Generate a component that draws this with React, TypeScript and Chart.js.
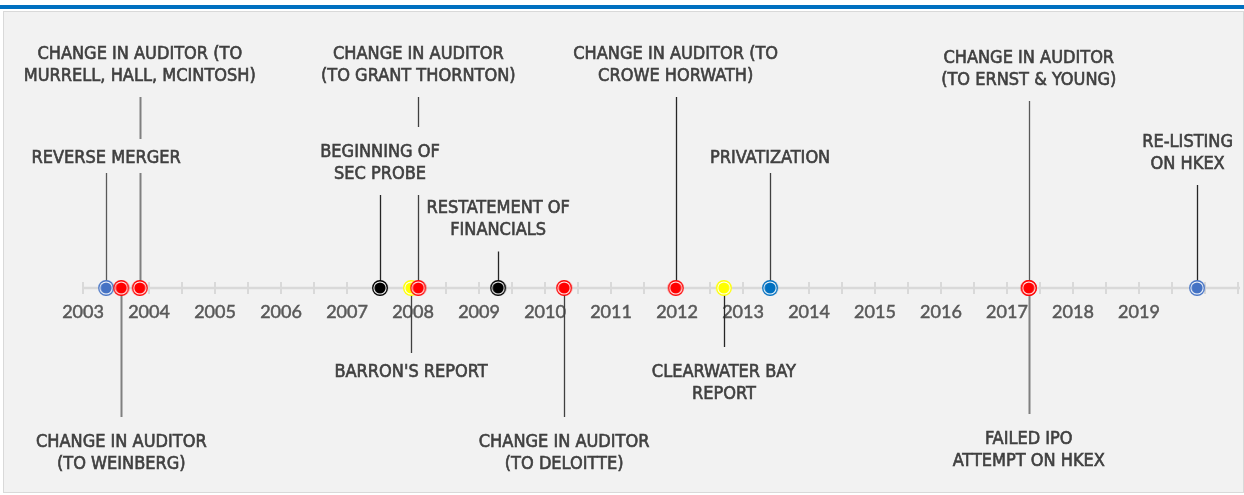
import React, { useEffect, useRef } from "react";
import { Chart, registerables } from "chart.js";

Chart.register(...registerables);

const eventLabels: string[][] = [
  ["REVERSE MERGER"],
  ["CHANGE IN AUDITOR", "(TO WEINBERG)"],
  ["CHANGE IN AUDITOR (TO", "MURRELL, HALL, MCINTOSH)"],
  ["BEGINNING OF", "SEC PROBE"],
  ["BARRON'S REPORT"],
  ["CHANGE IN AUDITOR", "(TO GRANT THORNTON)"],
  ["RESTATEMENT OF", "FINANCIALS"],
  ["CHANGE IN AUDITOR", "(TO DELOITTE)"],
  ["CHANGE IN AUDITOR (TO", "CROWE HORWATH)"],
  ["CLEARWATER BAY", "REPORT"],
  ["PRIVATIZATION"],
  ["CHANGE IN AUDITOR", "(TO ERNST & YOUNG)"],
  ["FAILED IPO", "ATTEMPT ON HKEX"],
  ["RE-LISTING", "ON HKEX"],
];
const eventDates = [
  2003.35, 2003.58, 2003.86, 2007.5, 2007.97, 2008.08, 2009.29, 2010.29,
  2011.98, 2012.71, 2013.41, 2017.33, 2017.33, 2019.88,
];
const eventHeights = [
  1.32, -1.63, 2.25, 1.27, -0.82, 2.25, 0.705, -1.63, 2.25, -0.93, 1.32, 2.21,
  -1.6, 1.37,
];
const eventColors = [
  "#4472c4", "#ff0000", "#ff0000", "#000000", "#ffff00", "#ff0000", "#000000",
  "#ff0000", "#ff0000", "#ffff00", "#0070c0", "#ff0000", "#ff0000", "#4472c4",
];
const stemColors = [
  "#595959", "#808080", "#808080", "#262626", "#404040", "#404040", "#262626",
  "#404040", "#262626", "#262626", "#404040", "#595959", "#808080", "#262626",
];
const yearTicks = [
  2003, 2004, 2005, 2006, 2007, 2008, 2009, 2010, 2011, 2012, 2013, 2014, 2015,
  2016, 2017, 2018, 2019,
];

const W = 1244;
const H = 495;

function makeMarker(color: string): HTMLCanvasElement {
  const c = document.createElement("canvas");
  c.width = 18;
  c.height = 18;
  const g = c.getContext("2d")!;
  g.beginPath();
  g.arc(9, 9, 7.3, 0, Math.PI * 2);
  g.fillStyle = "#ffffff";
  g.fill();
  g.lineWidth = 1.4;
  g.strokeStyle = color;
  g.stroke();
  g.beginPath();
  g.arc(9, 9, 5.6, 0, Math.PI * 2);
  g.fillStyle = color;
  g.fill();
  return c;
}

const timelinePlugin = {
  id: "timeline",
  beforeDatasetsDraw(chart: any) {
    const ctx = chart.ctx as CanvasRenderingContext2D;
    const xs = chart.scales.x;
    const ys = chart.scales.y;
    const y0 = ys.getPixelForValue(0);
    ctx.save();
    // axis line
    ctx.strokeStyle = "#d9d9d9";
    ctx.lineWidth = 2.5;
    ctx.beginPath();
    ctx.moveTo(xs.getPixelForValue(2003), y0);
    ctx.lineTo(chart.chartArea.right - 4, y0);
    ctx.stroke();
    // ticks every half year
    ctx.lineWidth = 2;
    for (let t = 2003; t <= 2020.5; t += 0.5) {
      const px = Math.round(xs.getPixelForValue(t));
      ctx.beginPath();
      ctx.moveTo(px, y0 - 6);
      ctx.lineTo(px, y0 + 6);
      ctx.stroke();
    }
    // year labels
    ctx.fillStyle = "#595959";
    ctx.strokeStyle = "#595959";
    ctx.lineWidth = 0.5;
    ctx.font = "18px Lato";
    ctx.textAlign = "center";
    ctx.textBaseline = "middle";
    yearTicks.forEach((yr) => {
      const px = xs.getPixelForValue(yr);
      ctx.fillText(String(yr), px, y0 + 24);
      ctx.strokeText(String(yr), px, y0 + 24);
    });
    // stems
    eventDates.forEach((d, i) => {
      const px = Math.round(xs.getPixelForValue(d)) + 0.5;
      const py = ys.getPixelForValue(eventHeights[i]);
      ctx.strokeStyle = stemColors[i];
      ctx.lineWidth = stemColors[i] === "#808080" ? 2 : 1.3;
      ctx.beginPath();
      ctx.moveTo(px, y0);
      ctx.lineTo(px, py);
      ctx.stroke();
    });
    // labels with background boxes
    ctx.font = "condensed 18px 'DejaVu Sans Condensed', 'DejaVu Sans', sans-serif";
    const rightLimit = chart.chartArea.right - 11;
    eventLabels.forEach((lines, i) => {
      const cy = ys.getPixelForValue(eventHeights[i]);
      const lh = 22;
      const wMax = Math.max(...lines.map((l) => ctx.measureText(l).width));
      const cx = Math.min(xs.getPixelForValue(eventDates[i]), rightLimit - wMax / 2);
      const bh = lines.length * lh + (lines.length === 1 ? 12 : 24);
      ctx.fillStyle = "#f2f2f2";
      ctx.fillRect(cx - wMax / 2 - 4, cy - bh / 2, wMax + 8, bh);
      ctx.fillStyle = "#404040";
      ctx.strokeStyle = "#404040";
      ctx.lineWidth = 0.6;
      lines.forEach((l, k) => {
        const ly = cy + 2 + (k - (lines.length - 1) / 2) * lh;
        ctx.fillText(l, cx, ly);
        ctx.strokeText(l, cx, ly);
      });
    });
    ctx.restore();
  },
};

export default function App() {
  const ref = useRef<HTMLCanvasElement>(null);
  useEffect(() => {
    if (!ref.current) return;
    const markers: Record<string, HTMLCanvasElement> = {};
    eventColors.forEach((c) => {
      if (!markers[c]) markers[c] = makeMarker(c);
    });
    const chart = new Chart(ref.current, {
      type: "scatter",
      data: {
        datasets: [
          {
            data: eventDates.map((d) => ({ x: d, y: 0 })),
            pointStyle: eventColors.map((c) => markers[c]) as any,
            pointRadius: 8,
            pointHoverRadius: 8,
          },
        ],
      },
      options: {
        animation: false,
        responsive: false,
        devicePixelRatio: 1,
        layout: { padding: 0, autoPadding: false },
        events: [],
        plugins: {
          legend: { display: false },
          tooltip: { enabled: false },
        },
        scales: {
          x: { type: "linear", display: false, min: 2001.742, max: 2020.591 },
          y: { type: "linear", display: false, min: -2.07, max: 2.88 },
        },
      },
      plugins: [timelinePlugin],
    });
    return () => chart.destroy();
  }, []);
  return (
    <div
      style={{
        position: "fixed",
        left: 0,
        top: 0,
        width: W,
        height: H,
        background: "#ffffff",
        overflow: "hidden",
      }}
    >
      <div
        style={{
          position: "absolute",
          left: 0,
          top: 5,
          width: W,
          height: 4,
          background: "#0070c0",
        }}
      />
      <div
        style={{
          position: "absolute",
          left: 3,
          top: 11,
          width: W - 3,
          height: 482,
          background: "#f2f2f2",
          border: "1px solid #d9d9d9",
          boxSizing: "border-box",
        }}
      />
      <canvas
        ref={ref}
        width={W}
        height={H}
        style={{ position: "absolute", left: 0, top: 0, width: W, height: H }}
      />
    </div>
  );
}
